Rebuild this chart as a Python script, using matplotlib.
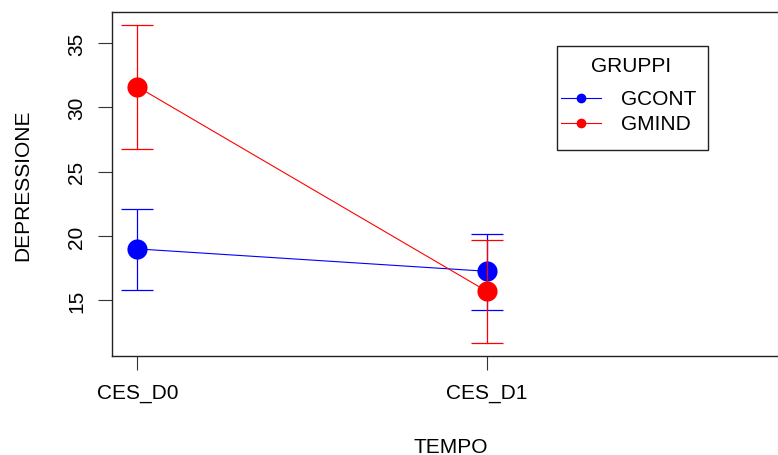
import matplotlib.pyplot as plt
from matplotlib.lines import Line2D
from matplotlib.patches import Rectangle

plt.rcParams['font.family'] = ['Liberation Sans', 'DejaVu Sans']

tempo = ['CES_D0', 'CES_D1']
gruppi = ['GCONT', 'GMIND']
colori = ['#0000FF', '#FF0000']
medie = {'GCONT': [19.0, 17.26], 'GMIND': [31.6, 15.71]}
sup = {'GCONT': [22.13, 20.18], 'GMIND': [36.42, 19.69]}
inf = {'GCONT': [15.81, 14.28], 'GMIND': [26.76, 11.67]}

W, H = 778, 456
fig = plt.figure(figsize=(W / 100, H / 100), dpi=100)
ax = fig.add_axes([112.3 / W, 1 - 356.7 / H, (790 - 112.3) / W, (356.7 - 13.3) / H])

x = [1, 2]
for g, c in zip(gruppi, colori):
    m = medie[g]
    err = [[m[i] - inf[g][i] for i in range(2)], [sup[g][i] - m[i] for i in range(2)]]
    ax.errorbar(x, m, yerr=err, fmt='none', ecolor=c, elinewidth=0.9, capsize=11.5, capthick=0.9)
    ax.plot(x, m, color=c, lw=0.8)
    ax.plot(x, m, 'o', color=c, markersize=14.5, markeredgewidth=0)

ax.set_xlim(0.928, 2.868)
ax.set_ylim(10.7, 37.39)
ax.set_xticks(x)
ax.set_xticklabels(tempo)
ax.set_yticks([15, 20, 25, 30, 35])
ax.tick_params(axis='both', labelsize=15, length=10, width=0.8, color='#333333')
ax.tick_params(axis='x', pad=10)
ax.tick_params(axis='y', pad=9)
for lab in ax.get_yticklabels():
    lab.set_rotation(90)
    lab.set_va('center')
for s in ax.spines.values():
    s.set_linewidth(1.0)
    s.set_color('#222222')

ax.set_xlabel('TEMPO', fontsize=15, va='center')
ax.xaxis.set_label_coords(0.5, -0.263)
ax.set_ylabel('DEPRESSIONE', fontsize=15, va='center')
ax.yaxis.set_label_coords(-0.1325, 0.5)

# legenda disegnata a mano come in R
def px(xp, yp):
    return xp / W, 1 - yp / H

tr = fig.transFigure
x0, y0 = px(556.7, 151)
x1, y1 = px(707.7, 47.3)
fig.add_artist(Rectangle((x0, y0), x1 - x0, y1 - y0, transform=tr, fill=False, ec='#222222', lw=1.0))
fig.text(*px(631, 66), 'GRUPPI', transform=tr, fontsize=15, ha='center', va='center')
for g, c, yy in zip(gruppi, colori, [99.3, 124.3]):
    a, b = px(561, yy)
    a2, _ = px(601, yy)
    fig.add_artist(Line2D([a, a2], [b, b], transform=tr, color=c, lw=0.8))
    fig.add_artist(Line2D([(a + a2) / 2], [b], transform=tr, color=c, marker='o', markersize=7, markeredgewidth=0))
    fig.text(*px(621, yy), g, transform=tr, fontsize=15, ha='left', va='center')

fig.savefig('out.png', dpi=100)
